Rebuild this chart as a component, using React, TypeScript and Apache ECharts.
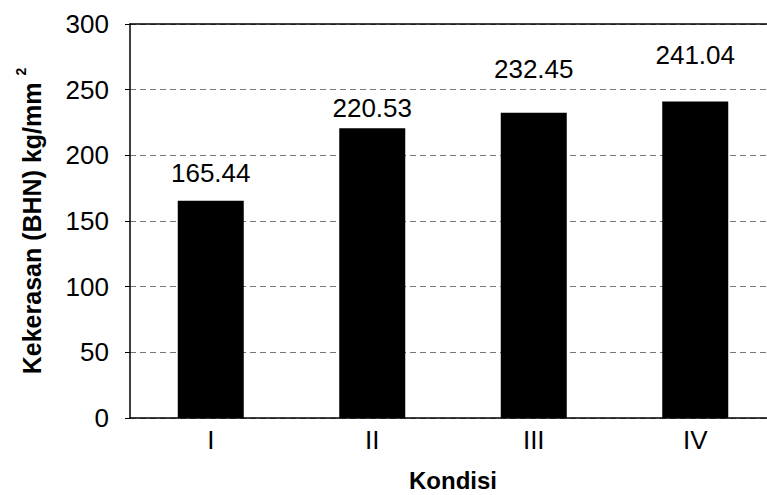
import { useEffect, useRef } from 'react';
import * as echarts from 'echarts';

const categories = ['I', 'II', 'III', 'IV'];
const hardness = [165.44, 220.53, 232.45, 241.04];
// label distance above each bar (labels were placed by hand in the original)
const labelGaps = [15, 7, 31, 33];
const yMin = 0;
const yMax = 300;
const yStep = 50;

const FONT = '"Liberation Sans", Arial, sans-serif';

export default function App() {
  const ref = useRef<HTMLDivElement>(null);

  useEffect(() => {
    document.body.style.margin = '0';
    if (!ref.current) return;
    const chart = echarts.init(ref.current, null, { renderer: 'svg' });

    const seriesData = hardness.map((v, i) => ({
      value: v,
      label: { distance: labelGaps[i] },
    }));

    chart.setOption({
      animation: false,
      backgroundColor: '#ffffff',
      grid: { left: 130, right: -9, top: 24, bottom: 77, containLabel: false, outerBoundsMode: 'none' },
      xAxis: [
        {
          type: 'category',
          data: categories,
          position: 'bottom',
          axisLine: { show: true, lineStyle: { color: '#000', width: 1.5 } },
          axisTick: { show: false },
          axisLabel: { color: '#000', fontSize: 26, fontFamily: FONT, margin: 9 },
          name: 'Kondisi',
          nameLocation: 'middle',
          nameGap: 52,
          nameTextStyle: { color: '#000', fontSize: 24, fontWeight: 'bold', fontFamily: FONT, lineHeight: 20 },
        },
        {
          type: 'category',
          data: categories,
          position: 'top',
          axisLine: { show: true, lineStyle: { color: '#000', width: 1.5 } },
          axisTick: { show: false },
          axisLabel: { show: false },
        },
      ],
      yAxis: {
        type: 'value',
        min: yMin,
        max: yMax,
        interval: yStep,
        axisLine: { show: true, lineStyle: { color: '#000', width: 1.5 } },
        axisTick: { show: true, length: 5, lineStyle: { color: '#000' } },
        axisLabel: { color: '#000', fontSize: 26, fontFamily: FONT, margin: 21 },
        splitLine: { show: true, lineStyle: { color: '#777', type: [6, 4], width: 1 } },
        name: '{a|Kekerasan (BHN) kg/mm }{sup|2}',
        nameLocation: 'middle',
        nameRotate: 90,
        nameGap: 80,
        nameTextStyle: {
          rich: {
            a: { color: '#000', fontSize: 25, fontWeight: 'bold', fontFamily: FONT, lineHeight: 36 },
            sup: { color: '#000', fontSize: 14, fontWeight: 'bold', fontFamily: FONT, verticalAlign: 'top', lineHeight: 14 },
          },
        },
      },
      series: [
        {
          type: 'bar',
          data: seriesData,
          barWidth: 66,
          itemStyle: { color: '#000' },
          label: {
            show: true,
            position: 'top',
            color: '#000',
            fontSize: 26,
            fontFamily: FONT,
            formatter: (p: any) => p.value.toFixed(2),
          },
        },
      ],
    });

    return () => chart.dispose();
  }, []);

  return <div ref={ref} style={{ width: 767, height: 495 }} />;
}
